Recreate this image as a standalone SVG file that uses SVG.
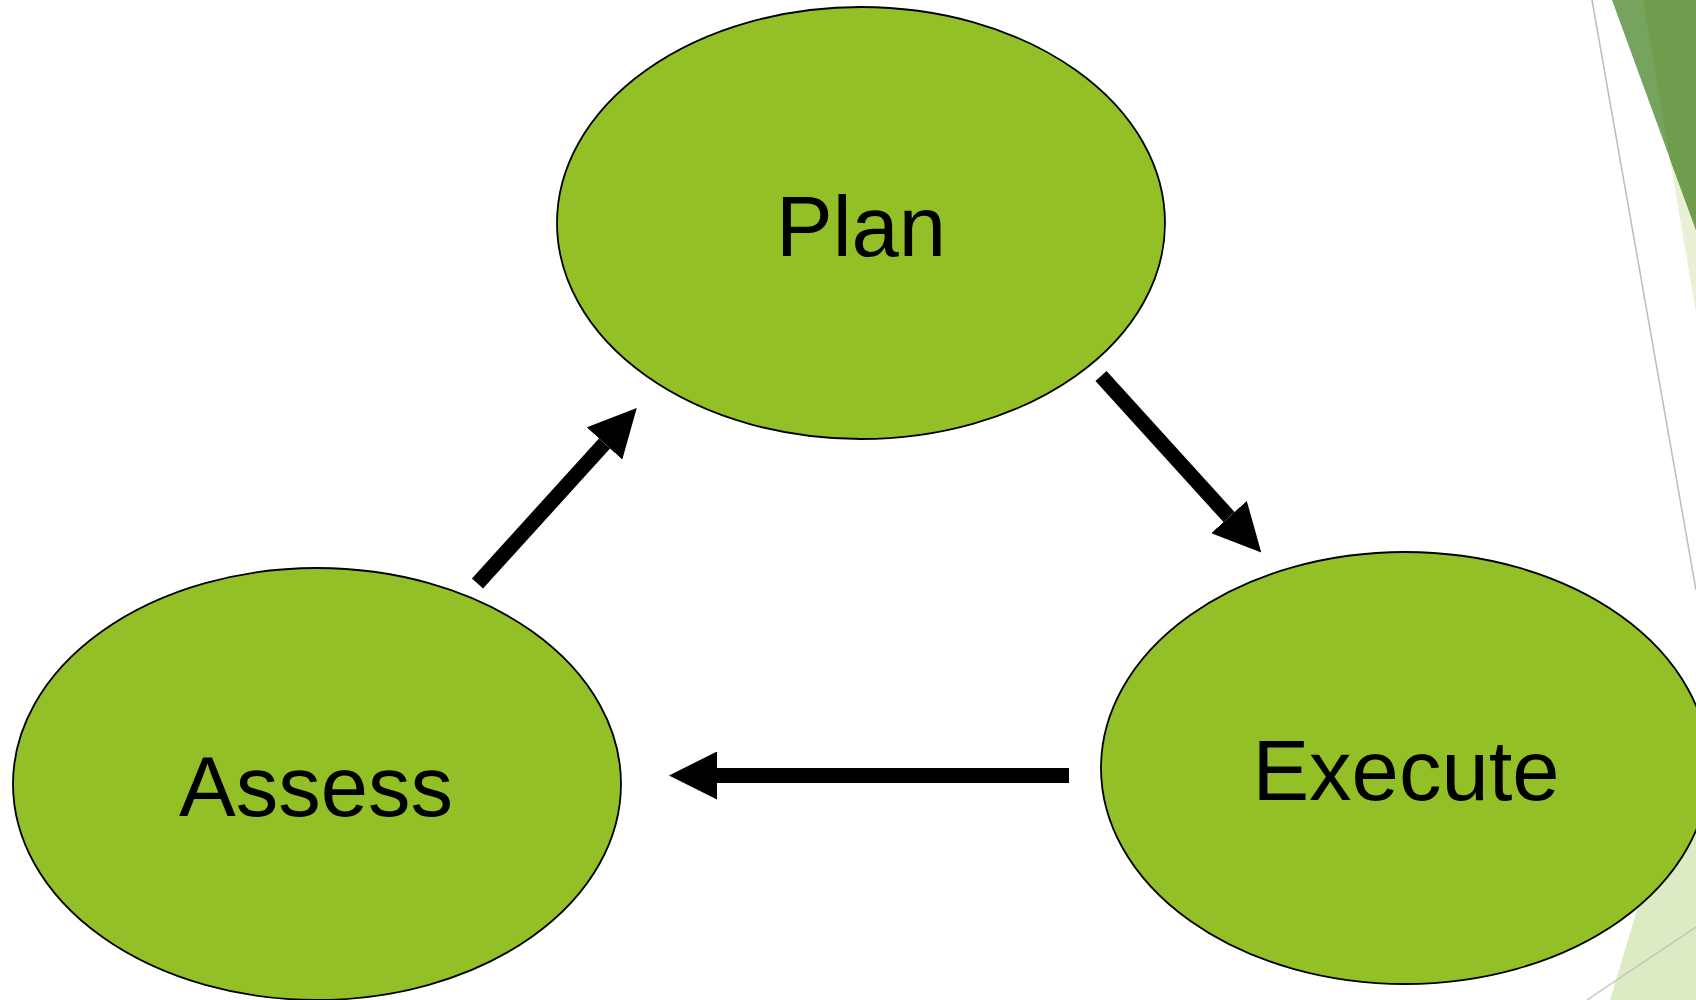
<svg xmlns="http://www.w3.org/2000/svg" width="1696" height="1000" viewBox="0 0 1696 1000">
  <style>
    .node ellipse { fill: #92C026; stroke: #000; stroke-width: 1.8; }
    .node text { font-family: "Liberation Sans", Arial, sans-serif; font-size: 85px; fill: #000; text-anchor: middle; }
    .conn line { stroke: #000; stroke-width: 15; }
    .deco-line { stroke: #BFBFBF; stroke-width: 1.6; fill: none; }
  </style>
  <defs>
    <marker id="head" markerUnits="userSpaceOnUse" markerWidth="48" markerHeight="48" refX="0" refY="24" orient="auto">
      <path d="M0,0 L48,24 L0,48 Z" fill="#000"/>
    </marker>
  </defs>
  <rect width="1696" height="1000" fill="#fff"/>
  <g id="decor">
    <polygon points="1643,0 1696,0 1696,313" fill="#E8F1D6"/>
    <polygon points="1612,0 1696,0 1696,230" fill="#76A45F"/>
    <polygon points="1643,0 1696,0 1696,230 1670,159" fill="#6F9C4D"/>
    <line class="deco-line" x1="1592" y1="0" x2="1696" y2="590"/>
    <polygon points="1610,1000 1696,1000 1696,713" fill="#DDEBC5"/>
    <line class="deco-line" x1="1587" y1="1000" x2="1696" y2="927" stroke-opacity="0.8"/>
  </g>
  <g id="plan" class="node">
    <ellipse cx="861" cy="223" rx="304" ry="216"/>
    <text x="861" y="256">Plan</text>
  </g>
  <g id="execute" class="node">
    <ellipse cx="1405" cy="768" rx="304" ry="216"/>
    <text x="1406" y="800">Execute</text>
  </g>
  <g id="assess" class="node">
    <ellipse cx="317" cy="784" rx="304" ry="216"/>
    <text x="316" y="816">Assess</text>
  </g>
  <g id="connectors" class="conn">
    <line x1="477.5" y1="583.5" x2="604.5" y2="443.5" marker-end="url(#head)"/>
    <line x1="1101" y1="376" x2="1229" y2="517" marker-end="url(#head)"/>
    <line x1="1069" y1="775.5" x2="717" y2="775.5" marker-end="url(#head)"/>
  </g>
</svg>
